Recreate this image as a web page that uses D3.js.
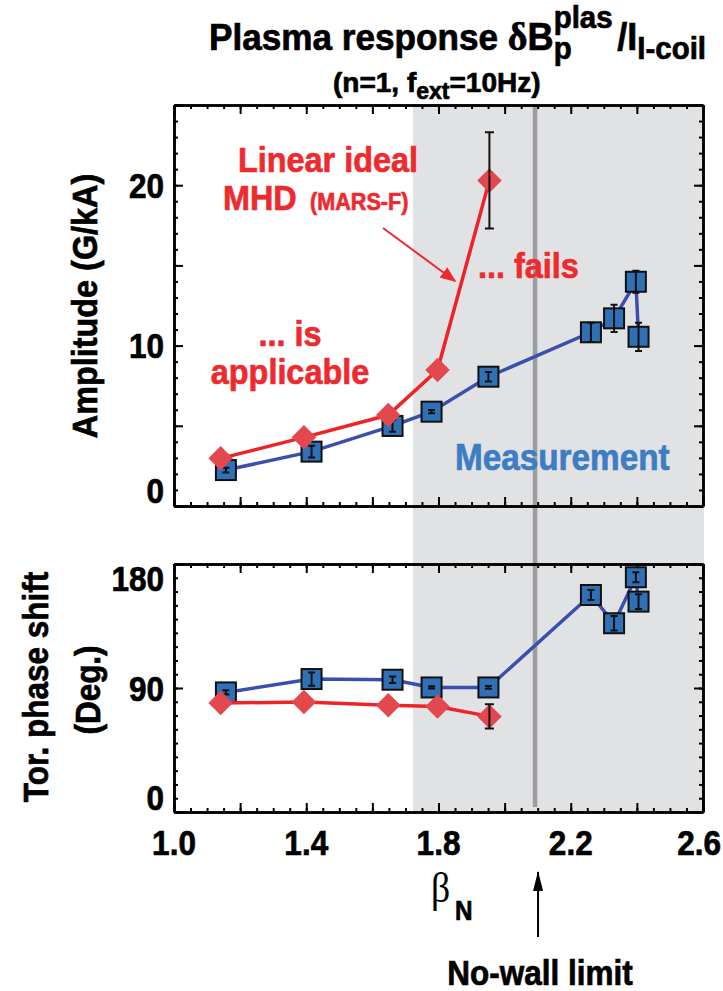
<!DOCTYPE html>
<html>
<head>
<meta charset="utf-8">
<title>Plasma response</title>
<script src="https://d3js.org/d3.v7.min.js"></script>
<style>
  body { margin: 0; background: #fff; }
  text { font-family: "Liberation Sans", Arial, sans-serif; font-weight: bold; }
  .axis path, .axis line { stroke: #000; }
</style>
</head>
<body>
<div id="chart"></div>
<script>
"use strict"

// beta_N values and data
var betaMeas = [1.157, 1.416, 1.661, 1.779, 1.951, 2.261, 2.331, 2.397, 2.405];
var ampMeas = [2.24, 3.39, 4.99, 5.88, 8.06, 10.83, 11.70, 13.98, 10.55];
var ampMeasErr = [0.15, 0.36, 0.36, 0.1, 0.3, 0.6, 0.85, 0.69, 0.88];
var phaseMeas = [86.8, 96.5, 96.0, 90.4, 90.4, 157.5, 137.0, 170.4, 152.7];
var phaseMeasErr = [1.5, 4.8, 2.4, 0.8, 1.0, 3.6, 5.3, 3.6, 5.4];

var betaMars = [1.141, 1.393, 1.648, 1.797, 1.954];
var ampMars = [2.97, 4.28, 5.67, 8.48, 20.3];
var ampMarsErr = [0, 0, 0, 0, 3.0];
var phaseMars = [79.1, 79.8, 77.4, 76.6, 69.4];
var phaseMarsErr = [0, 0, 0, 0, 8.8];

var xTicks = [1.0, 1.4, 1.8, 2.2, 2.6];
var ampTicks = [0, 10, 20];
var phaseTicks = [0, 90, 180];
var shadeStart = 1.723;   // start of grey band
var noWallLimit = 2.092;

var svg = d3.select('#chart').append('svg')
  .attr('width', 723).attr('height', 991);

var x = d3.scaleLinear().domain([1.0, 2.6]).range([174, 703]);
var yAmp = d3.scaleLinear().domain([0, 25]).range([506, 105]);
var yPh = d3.scaleLinear().domain([0, 180]).range([812, 564]);

var SX = 0.9; // condensed look

function txt(g, px, py, s, size, opt) {
  opt = opt || {};
  var col = opt.fill || '#000';
  var t = g.append('text')
    .attr('transform', 'translate(' + px + ',' + py + ')' + (opt.rot ? ' rotate(' + opt.rot + ')' : '') + ' scale(' + (opt.sx || SX) + ',1)')
    .attr('font-size', size)
    .attr('text-anchor', opt.anchor || 'start')
    .attr('fill', col)
    .text(s);
  if (opt.family) t.style('font-family', opt.family);
  if (opt.weight) t.style('font-weight', opt.weight);
  if (opt.halo) {
    // grey knock-out behind the text, then the text itself on top
    var h = g.append('text').attr('transform', t.attr('transform')).attr('font-size', size)
      .attr('text-anchor', opt.anchor || 'start').attr('fill', opt.halo)
      .attr('stroke', opt.halo).attr('stroke-width', 7).attr('stroke-linejoin', 'round').text(s);
    h.lower(); t.raise();
  }
  if (!opt.thin) t.attr('stroke', col).attr('stroke-width', 0.7);
  return t;
}

// grey band + no-wall line
svg.append('rect')
  .attr('x', x(shadeStart)).attr('y', yAmp(25))
  .attr('width', x(2.6) - x(shadeStart) + 1).attr('height', yPh(0) - yAmp(25))
  .attr('fill', '#e1e2e4');
svg.append('line')
  .attr('x1', x(noWallLimit)).attr('x2', x(noWallLimit))
  .attr('y1', yAmp(25)).attr('y2', yPh(0) - 5)
  .attr('stroke', '#9d9d9f').attr('stroke-width', 4.5);

var xMaj = d3.range(1.0, 2.61, 0.2), xMin = d3.range(1.0, 2.61, 0.05);

function frame(y, yMaj, yMin) {
  var x0 = x.range()[0], x1 = x.range()[1], yb = y.range()[0], yt = y.range()[1];
  var g = svg.append('g').attr('class', 'axis');
  var defs = [
    [d3.axisBottom(x), 'translate(0,' + yb + ')', xMaj, xMin],
    [d3.axisTop(x), 'translate(0,' + yt + ')', xMaj, xMin],
    [d3.axisLeft(y), 'translate(' + x0 + ',0)', yMaj, yMin],
    [d3.axisRight(y), 'translate(' + x1 + ',0)', yMaj, yMin]
  ];
  defs.forEach(function (d) {
    g.append('g').attr('transform', d[1])
      .call(d[0].tickValues(d[3]).tickSize(-4).tickSizeOuter(0).tickFormat(''));
    g.append('g').attr('transform', d[1])
      .call(d[0].tickValues(d[2]).tickSize(-9).tickSizeOuter(0).tickFormat(''));
  });
  g.selectAll('path').attr('stroke-width', 2.5);
  g.selectAll('line').attr('stroke-width', 2);
}
frame(yAmp, d3.range(0, 26, 5), d3.range(0, 26, 1));
frame(yPh, phaseTicks, d3.range(0, 181, 10));

// tick labels
xTicks.forEach(function (v, i) {
  var last = i === xTicks.length - 1;
  txt(svg, last ? 721 : x(v), 855, v.toFixed(1), 35, {anchor: last ? 'end' : 'middle'});
});
ampTicks.forEach(function (v) {
  var c = Math.min(yAmp(v), yAmp(0) - 16);
  txt(svg, 164, c + 12.5, v, 35, {anchor: 'end'});
});
phaseTicks.forEach(function (v) {
  var c = Math.max(Math.min(yPh(v), yPh(0) - 15), yPh(180) + 14);
  txt(svg, 164, c + 12.5, v, 35, {anchor: 'end'});
});

// series drawing
function series(y, bx, vals, errs, kind) {
  var pts = bx.map(function (b, i) { return {b: b, v: vals[i], e: errs[i]}; });
  var line = d3.line().x(function (d) { return x(d.b); }).y(function (d) { return y(d.v); });
  var g = svg.append('g');
  g.append('path').datum(pts).attr('d', line).attr('fill', 'none')
    .attr('stroke', kind === 'meas' ? '#3b4fae' : '#ee2328').attr('stroke-width', 3.5);
  if (kind === 'meas') {
    g.selectAll('rect').data(pts).enter().append('rect')
      .attr('x', function (d) { return x(d.b) - 10; }).attr('y', function (d) { return y(d.v) - 10; })
      .attr('width', 20).attr('height', 20)
      .attr('fill', '#2f70b6').attr('stroke', '#111').attr('stroke-width', 2);
  } else {
    g.selectAll('path.m').data(pts).enter().append('path').attr('class', 'm')
      .attr('d', d3.symbol(d3.symbolSquare, 300)())
      .attr('transform', function (d) { return 'translate(' + x(d.b) + ',' + y(d.v) + ') rotate(45)'; })
      .attr('fill', '#e2484d');
  }
  var cw = kind === 'meas' ? 3.5 : 4.5;
  pts.filter(function (d) { return d.e > 0; }).forEach(function (d) {
    var cx = x(d.b), y1 = y(d.v - d.e), y2 = y(d.v + d.e);
    var p = 'M' + cx + ',' + y1 + 'V' + y2 + 'M' + (cx - cw) + ',' + y1 + 'H' + (cx + cw) + 'M' + (cx - cw) + ',' + y2 + 'H' + (cx + cw);
    g.append('path').attr('d', p).attr('stroke', '#111').attr('stroke-width', 2).attr('fill', 'none');
  });
}
series(yAmp, betaMeas, ampMeas, ampMeasErr, 'meas');
series(yAmp, betaMars, ampMars, ampMarsErr, 'mars');
series(yPh, betaMeas, phaseMeas, phaseMeasErr, 'meas');
series(yPh, betaMars, phaseMars, phaseMarsErr, 'mars');

// annotations
var red = '#ee2a2f';
txt(svg, 328, 172, 'Linear ideal', 36, {anchor: 'middle', fill: red});
txt(svg, 223, 210, 'MHD', 36, {fill: red});
txt(svg, 310, 210, '(MARS-F)', 24, {fill: red});
txt(svg, 290, 346, '... is', 36, {anchor: 'middle', fill: red});
txt(svg, 290, 384, 'applicable', 36, {anchor: 'middle', fill: red});
txt(svg, 478, 278, '... fails', 36, {fill: red, halo: '#e1e2e4'});
txt(svg, 455, 470, 'Measurement', 37, {fill: '#3d7dc4', halo: '#e1e2e4'});

svg.append('defs').html(
  '<marker id="ar" viewBox="0 0 10 10" refX="9" refY="5" markerWidth="8" markerHeight="8" orient="auto">' +
  '<path d="M0,1 L10,5 L0,9 z" fill="' + red + '"/></marker>' +
  '<marker id="ab" viewBox="0 0 10 20" refX="5" refY="1" markerWidth="10" markerHeight="20" markerUnits="userSpaceOnUse" orient="0">' +
  '<path d="M0,20 L5,0 L10,20 z" fill="#000"/></marker>');
svg.append('line').attr('x1', 383).attr('y1', 228).attr('x2', 455).attr('y2', 281)
  .attr('stroke', red).attr('stroke-width', 2).attr('marker-end', 'url(#ar)');

// title, built piece by piece so scripts can stack
var tg, cx;
function piece(s, size, dy, family) {
  var t = tg.append('text').attr('x', cx).attr('y', dy).attr('font-size', size)
    .attr('stroke', '#000').attr('stroke-width', 0.7).text(s);
  if (family) t.style('font-family', family);
  return t.node().getComputedTextLength();
}
tg = svg.append('g').attr('transform', 'translate(209,50) scale(0.95,1)');
cx = 0;
cx += piece('Plasma response\u00a0', 37, 0);
cx += piece('\u03b4', 40, 0, '"Liberation Serif", serif');
cx += piece('B', 38, 0);
var w1 = piece('plas', 31, -22), w2 = piece('p', 31, 9);
cx += Math.max(w1, w2) + 5;
cx += piece('/I', 38, 0);
cx += piece('I-coil', 31, 9);

tg = svg.append('g').attr('transform', 'translate(333,92)');
cx = 0;
cx += piece('(n=1, f', 28, 0);
cx += piece('ext', 23, 7);
cx += piece('=10Hz)', 28, 0);

// axis titles
txt(svg, 97, 306, 'Amplitude (G/kA)', 36, {anchor: 'middle', rot: -90});
txt(svg, 48, 687, 'Tor. phase shift', 35, {anchor: 'middle', rot: -90});
txt(svg, 100, 690, '(Deg.)', 35, {anchor: 'middle', rot: -90});

// beta_N
txt(svg, 431, 902, '\u03b2', 42, {family: '"Liberation Serif", serif', weight: 'normal', thin: true});
txt(svg, 455, 920, 'N', 27, {});

// no-wall arrow
svg.append('line').attr('x1', x(noWallLimit) + 3).attr('x2', x(noWallLimit) + 3)
  .attr('y1', 937).attr('y2', 872).attr('stroke', '#000').attr('stroke-width', 2)
  .attr('marker-end', 'url(#ab)');
txt(svg, 540, 985, 'No-wall limit', 35, {anchor: 'middle'});
</script>
</body>
</html>
